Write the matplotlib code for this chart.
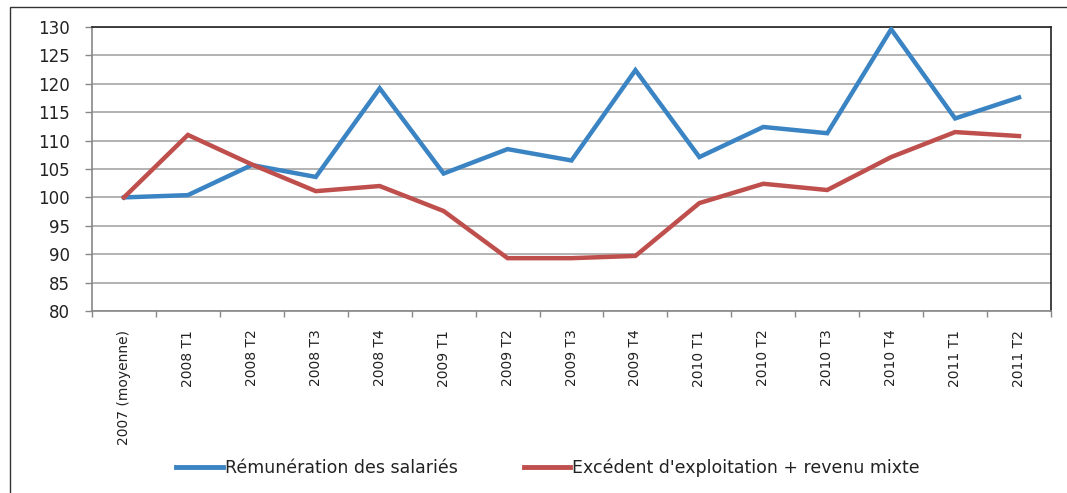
import matplotlib
matplotlib.use("Agg")
import matplotlib.pyplot as plt
from matplotlib.patches import Rectangle
from matplotlib.ticker import FixedLocator, NullFormatter

categories = ["2007 (moyenne)", "2008 T1", "2008 T2", "2008 T3", "2008 T4",
              "2009 T1", "2009 T2", "2009 T3", "2009 T4",
              "2010 T1", "2010 T2", "2010 T3", "2010 T4",
              "2011 T1", "2011 T2"]
remuneration = [100.0, 100.4, 105.7, 103.6, 119.2, 104.2, 108.5, 106.5, 122.4,
                107.1, 112.4, 111.3, 129.6, 113.9, 117.6]
excedent = [100.0, 111.0, 105.8, 101.1, 102.0, 97.6, 89.3, 89.3, 89.7,
            99.0, 102.4, 101.3, 107.1, 111.5, 110.8]
series_names = ["Rémunération des salariés", "Excédent d'exploitation + revenu mixte"]
y_ticks = list(range(80, 131, 5))

plt.rcParams['font.family'] = ['DejaVu Sans']

fig = plt.figure(figsize=(10.67, 4.93), dpi=100)
fig.patch.set_facecolor("white")

# outer frame
fig.add_artist(Rectangle((10 / 1067, -0.05), 1.2, 1 - 7 / 493 + 0.05,
                         transform=fig.transFigure, fill=False,
                         edgecolor="#333333", linewidth=1.0))

ax = fig.add_axes([92 / 1067, 1 - 311 / 493, (1051 - 92) / 1067, (311 - 27) / 493])
x = list(range(len(categories)))
ax.plot(x, remuneration, color="#3b84c4", linewidth=3.2, label=series_names[0],
        solid_joinstyle="miter", zorder=3)
ax.plot(x, excedent, color="#bf4f4c", linewidth=3.2, label=series_names[1],
        solid_joinstyle="miter", zorder=3)

ax.set_xlim(-0.5, len(categories) - 0.5)
ax.set_ylim(80, 130)
ax.set_yticks(y_ticks)
ax.set_yticklabels([str(v) for v in y_ticks], fontsize=12, color="#222222")
ax.yaxis.grid(True, color="#a6a6a6", linewidth=1.2)
ax.set_axisbelow(True)

ax.xaxis.set_major_locator(FixedLocator([i - 0.5 for i in range(len(categories) + 1)]))
ax.xaxis.set_major_formatter(NullFormatter())
ax.xaxis.set_minor_locator(FixedLocator(x))
ax.set_xticklabels(categories, minor=True, rotation=90, fontsize=10, color="#222222")
ax.tick_params(axis="x", which="minor", length=0, pad=13.5)
ax.tick_params(axis="x", which="major", length=4, color="#888888", width=1)
ax.tick_params(axis="y", length=5, color="#888888", width=1, pad=11)

for s in ["left", "bottom"]:
    ax.spines[s].set_color("#888888")
    ax.spines[s].set_linewidth(1.2)
for s in ["top", "right"]:
    ax.spines[s].set_color("#222222")
    ax.spines[s].set_linewidth(1.2)

leg = fig.legend(loc="center", bbox_to_anchor=(548 / 1067, 1 - 468 / 493), ncol=2,
                 frameon=False, fontsize=12.5, handlelength=2.7, handletextpad=0.1,
                 columnspacing=3.8)
for t in leg.get_texts():
    t.set_color("#222222")
for line in leg.get_lines():
    line.set_linewidth(3.5)

fig.savefig("out.png", dpi=100, facecolor="white")
